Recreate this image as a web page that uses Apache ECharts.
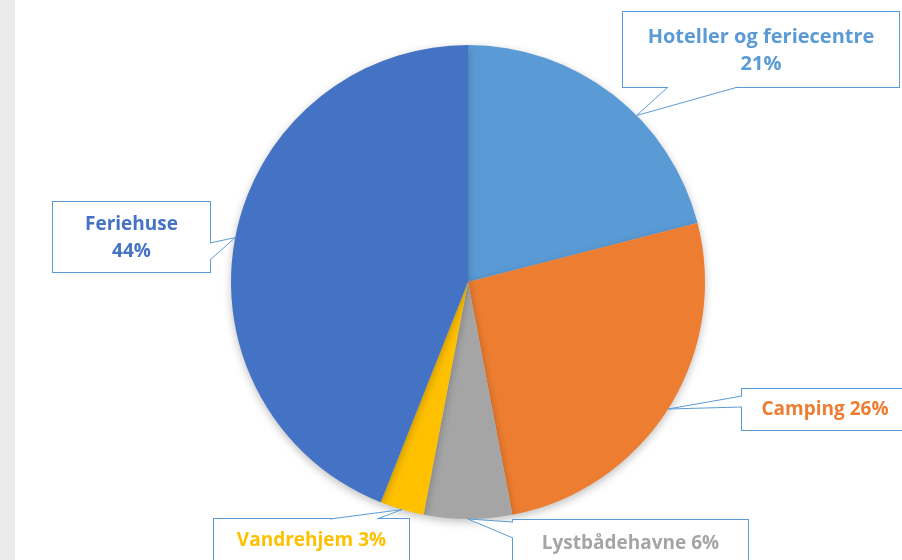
<!DOCTYPE html>
<html>
<head>
<meta charset="utf-8">
<script src="https://cdn.jsdelivr.net/npm/echarts@6/dist/echarts.min.js"></script>
<style>
html, body { margin: 0; padding: 0; background: #fff; }
#main { width: 902px; height: 560px; background: linear-gradient(to right, #ebebeb 15px, #fff 15px); }
</style>
</head>
<body>
<div id="main"></div>
<script>
// 数据
var categories = ['Hoteller og feriecentre', 'Camping', 'Lystbådehavne', 'Vandrehjem', 'Feriehuse'];
var values = [21, 26, 6, 3, 44];
var colors = ['#5B9BD5', '#ED7D31', '#A5A5A5', '#FFC000', '#4472C4'];
var twoLine = [true, false, false, false, true];

// 标签框 [left, top, width, height]，指针底边两点，指针在扇区内的位置
var callouts = [
  { box: [623, 12, 276, 75], pad: [12, 0, 9, 0], size: 20, base: [[668, 87], [738, 87]], tipAt: 0.6 },
  { box: [742, 389, 166, 41], pad: [7, 0, 7, 0], size: 19, base: [[742, 396], [742, 407]], tipAt: 0.5 },
  { box: [513, 520, 235, 46], pad: [10, 0, 10, 0], size: 19, base: [[513, 522], [513, 538]], tipAt: 0.5 },
  { box: [214, 519, 195, 46], pad: [8, 0, 10, 0], size: 19, base: [[330, 519], [377, 519]], tipAt: 0.5 },
  { box: [53, 202, 157, 71], pad: [9, 0, 7, 0], size: 19, base: [[210, 243], [210, 260]], tipAt: 0.5 }
];

var lineColor = '#5B9BD5';
var font = 'Open Sans';

var chart = echarts.init(document.getElementById('main'));

var seriesData = categories.map(function (name, i) {
  var c = callouts[i];
  return {
    name: name,
    value: values[i],
    itemStyle: { color: colors[i] },
    label: {
      color: colors[i],
      fontSize: c.size,
      width: c.box[2],
      padding: c.pad,
      lineHeight: 27
    }
  };
});

var option = {
  backgroundColor: 'transparent',
  animation: false,
  series: [{
    type: 'pie',
    center: [468, 282],
    radius: 237,
    startAngle: 90,
    clockwise: true,
    avoidLabelOverlap: false,
    itemStyle: {
      borderWidth: 0,
      shadowBlur: 8,
      shadowOffsetY: 3,
      shadowColor: 'rgba(0,0,0,0.25)'
    },
    emphasis: { disabled: true },
    label: {
      show: true,
      position: 'inside',
      fontFamily: font,
      fontWeight: 'bold',
      fontSize: 19,
      align: 'center',
      backgroundColor: '#fff',
      borderColor: lineColor,
      borderWidth: 1,
      formatter: function (p) {
        return twoLine[p.dataIndex] ? p.name + '\n' + p.value + '%' : p.name + ' ' + p.value + '%';
      }
    },
    labelLine: { show: false },
    labelLayout: function (params) {
      var b = callouts[params.dataIndex].box;
      return { x: b[0] + b[2] / 2, y: b[1], align: 'center', verticalAlign: 'top' };
    },
    data: seriesData
  }]
};

chart.setOption(option);

// 标注框指针：尖端取自饼图布局
var data = chart.getModel().getSeriesByIndex(0).getData();
var graphics = [];
callouts.forEach(function (c, i) {
  var lay = data.getItemLayout(i);
  var ang = lay.startAngle + (lay.endAngle - lay.startAngle) * c.tipAt;
  var tip = [lay.cx + lay.r * Math.cos(ang), lay.cy + lay.r * Math.sin(ang)];
  var b1 = c.base[0], b2 = c.base[1];
  var cx = c.box[0] + c.box[2] / 2, cy = c.box[1] + c.box[3] / 2;
  var inx = 0, iny = 0;
  if (b1[1] === b2[1]) { iny = cy > b1[1] ? 1.5 : -1.5; } else { inx = cx > b1[0] ? 1.5 : -1.5; }
  graphics.push({
    type: 'polygon', z: 100, silent: true,
    shape: { points: [b1, tip, b2, [b2[0] + inx, b2[1] + iny], [b1[0] + inx, b1[1] + iny]] },
    style: { fill: '#fff' }
  });
  graphics.push({
    type: 'polyline', z: 101, silent: true,
    shape: { points: [b1, tip, b2] },
    style: { stroke: lineColor, lineWidth: 1, fill: null }
  });
});
chart.setOption({ graphic: graphics });
</script>
</body>
</html>
